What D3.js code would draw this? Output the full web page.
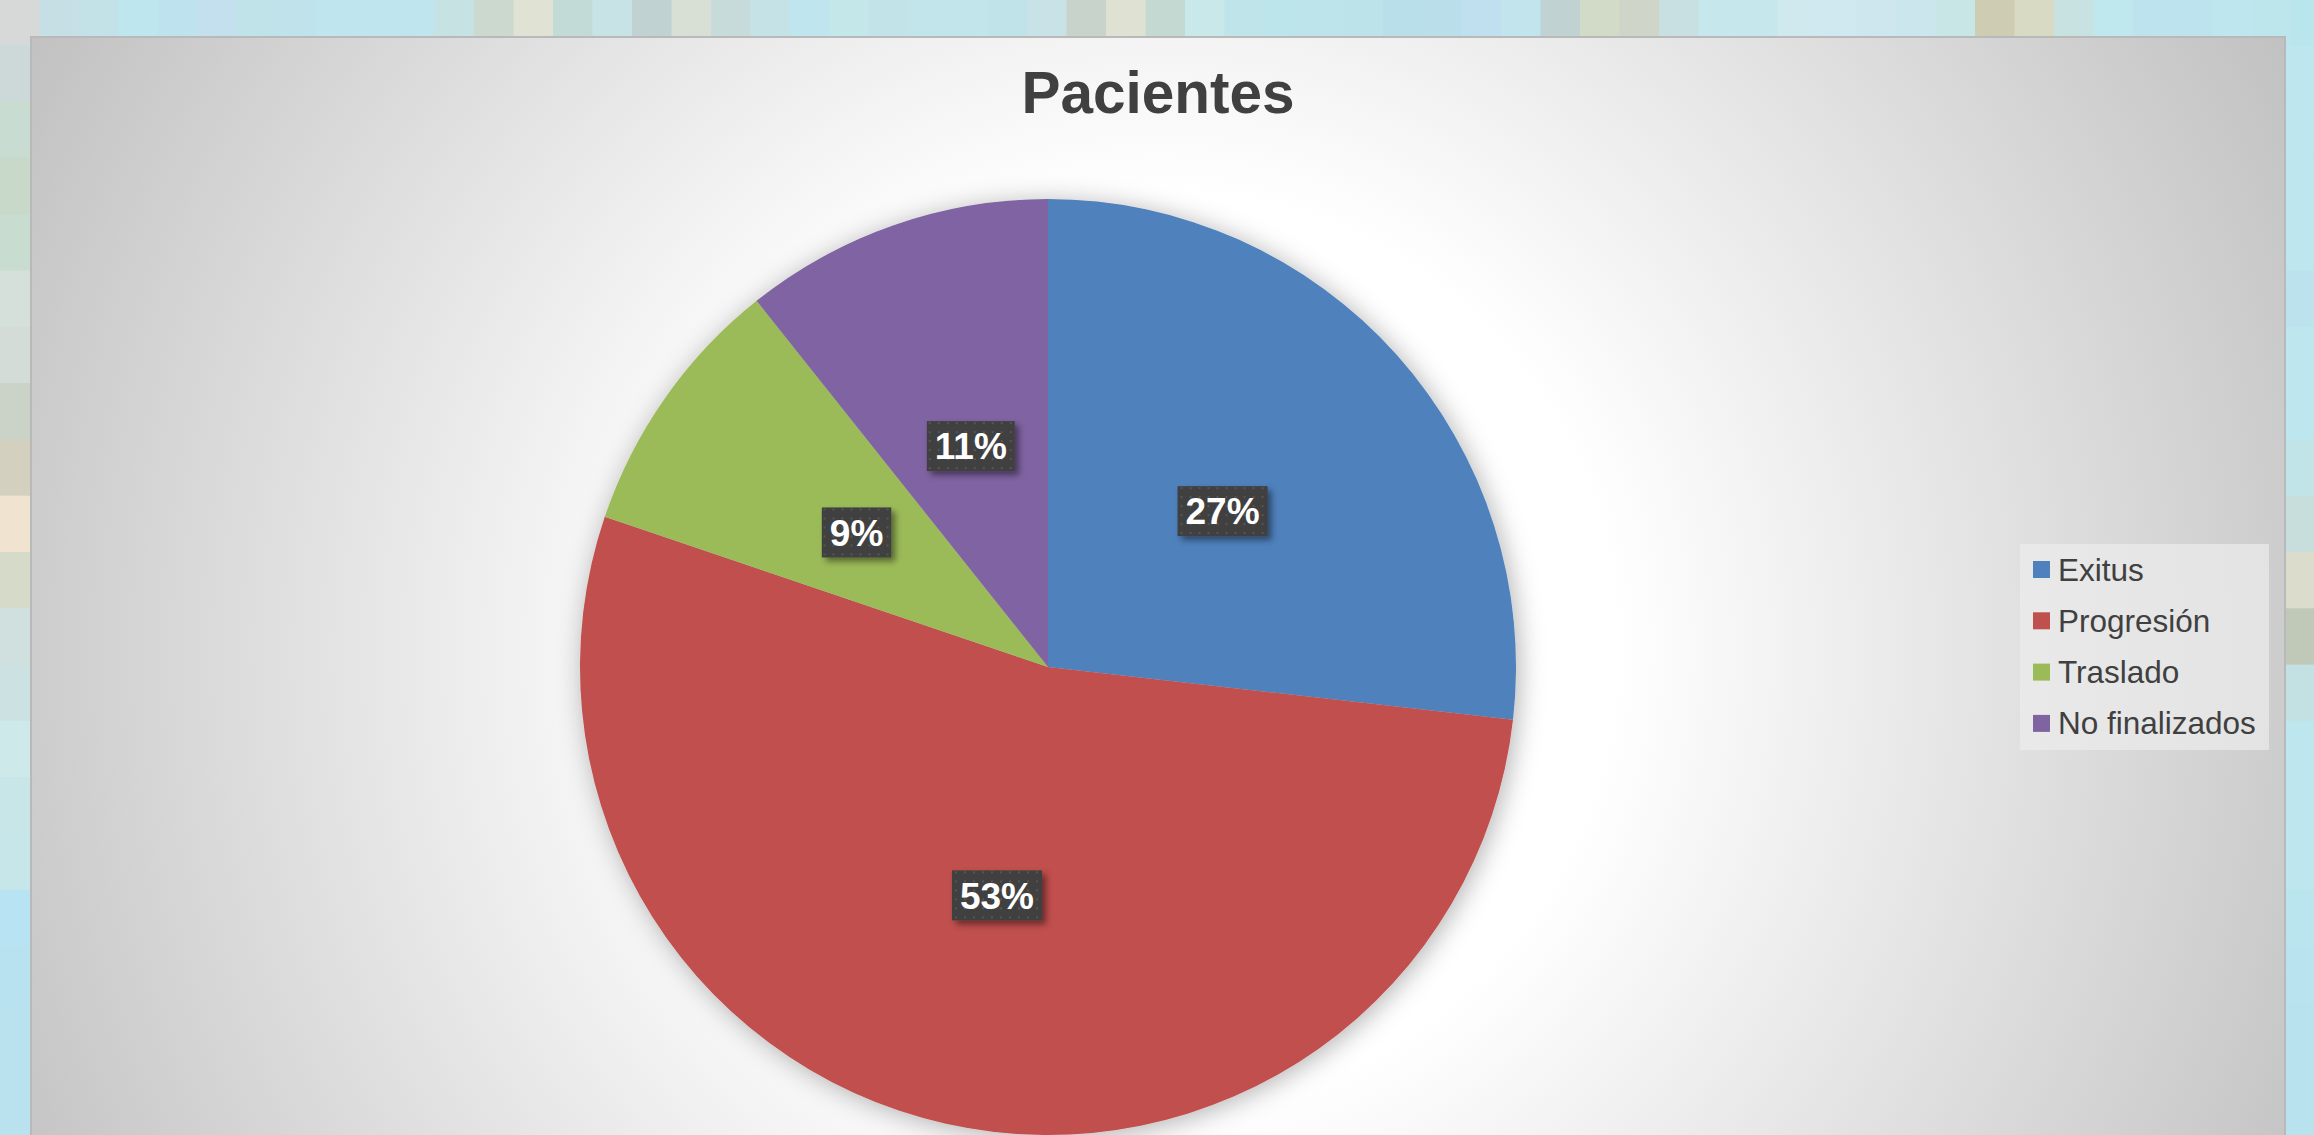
<!DOCTYPE html>
<html>
<head>
<meta charset="utf-8">
<script src="https://cdn.jsdelivr.net/npm/d3@7"></script>
<style>
  html, body { margin: 0; padding: 0; background: #bfe4ec; }
  svg { display: block; }
</style>
</head>
<body>
<div id="chart"></div>
<script>
// Chart data (percent shares)
const categories = ["Exitus", "Progresión", "Traslado", "No finalizados"];
const values = [26.8, 53.4, 9.1, 10.7];
const colors = ["#4f81bd", "#c0504d", "#9bbb59", "#8064a2"];
const title = "Pacientes";

// Mosaic backdrop tiles (top row, left column, right column)
const topTiles = ["#d6d9d8", "#c6dfe5", "#c2e2e8", "#bde6ee", "#bfe3ee", "#c4e0ee", "#c0e2e9", "#c0e2ea",
    "#bfe6ee", "#bfe6ee", "#bfe6ee", "#c6e2e3", "#cbd9cf", "#e0e2d4", "#c2dbd7", "#c8e3e6", "#c0d2d1",
    "#d8dfd5", "#c8dbdb", "#c5e3e7", "#bfe6ee", "#c4e8e9", "#c2e3e8", "#c2e4eb", "#c2e4eb", "#c0e3ea",
    "#c9e2e7", "#c8d4cb", "#dfe1d3", "#c5d9d3", "#c8e8ea", "#bfe4e9", "#bbe5ea", "#bde4ea", "#bce3ea",
    "#b9e0ea", "#badfea", "#c0e0f0", "#c2e4ec", "#c0d3d2", "#d2dbc8", "#cfd5c9", "#c9e0e3", "#c6e7ec",
    "#c6e7ec", "#d0e9ee", "#d0e8ef", "#cee6ee", "#cbe6ed", "#c8e6e5", "#cecdb4", "#d8dac4", "#c8e1e1",
    "#bee7ee", "#bde4ee", "#bde4ee", "#bee6ee", "#bde6ec", "#b8e6ec"];
const leftTiles = ["#d6d9d8", "#cdd9d8", "#c8dcd2", "#c8d9c9", "#c8dccf", "#d5e0da", "#d4dcd8", "#cbd2c8",
    "#d4d0bf", "#f0e3d0", "#d6dac8", "#d0e0de", "#cce2e2", "#cde9ea", "#c8e5e7", "#c6e6e9", "#b8e3f3",
    "#b8e2f0", "#b9e1ee", "#b9e2ee", "#b9e2ee"];
const rightTiles = ["#b8e6ec", "#bde6ee", "#bde6ee", "#bde6ee", "#bde6ee", "#bce2ee", "#bde6ee", "#bde6ee",
    "#c0e4e8", "#c8dedc", "#dcdccc", "#c0c8b8", "#c3e1e3", "#bee6ee", "#bee6ee", "#bde6ee", "#bae4ee",
    "#b9e3ee", "#b8e2ee", "#b8e2ee", "#b8e2ee"];

const width = 2314, height = 1135;
const tileW = 39.5, tileH = 56.3, tileY0 = -11;
const font = "'Liberation Sans', Arial, sans-serif";

const svg = d3.select("#chart").append("svg")
    .attr("width", width)
    .attr("height", height);

const defs = svg.append("defs");

// Panel radial gradient
const grad = defs.append("radialGradient")
    .attr("id", "panelGrad")
    .attr("gradientUnits", "userSpaceOnUse")
    .attr("cx", 1158).attr("cy", 650).attr("r", 1300);
grad.append("stop").attr("offset", 0).attr("stop-color", "#ffffff");
grad.append("stop").attr("offset", 0.35).attr("stop-color", "#ffffff");
grad.append("stop").attr("offset", 1).attr("stop-color", "#c0c0c0");

// Soft shadow for the pie
const pieShadow = defs.append("filter").attr("id", "pieShadow")
    .attr("x", "-20%").attr("y", "-20%").attr("width", "140%").attr("height", "140%");
pieShadow.append("feDropShadow")
    .attr("dx", 3).attr("dy", 3).attr("stdDeviation", 13)
    .attr("flood-color", "#000").attr("flood-opacity", 0.3);

// Shadow for label boxes
const labelShadow = defs.append("filter").attr("id", "labelShadow")
    .attr("x", "-30%").attr("y", "-30%").attr("width", "160%").attr("height", "160%");
labelShadow.append("feDropShadow")
    .attr("dx", 4).attr("dy", 4).attr("stdDeviation", 3)
    .attr("flood-color", "#000").attr("flood-opacity", 0.45);

// Dotted texture for label boxes
const dots = defs.append("pattern").attr("id", "dots")
    .attr("patternUnits", "userSpaceOnUse")
    .attr("width", 9).attr("height", 9);
dots.append("rect").attr("width", 9).attr("height", 9).attr("fill", "#404040");
dots.append("rect").attr("x", 3).attr("y", 3).attr("width", 2).attr("height", 2).attr("fill", "#555555");

// Mosaic backdrop
const bg = svg.append("g");
bg.selectAll("rect.top")
    .data(topTiles)
    .enter().append("rect")
    .attr("class", "top")
    .attr("x", (d, i) => i * tileW)
    .attr("y", 0)
    .attr("width", tileW + 0.5)
    .attr("height", 45)
    .attr("fill", d => d);
bg.selectAll("rect.left")
    .data(leftTiles.slice(1))
    .enter().append("rect")
    .attr("class", "left")
    .attr("x", 0)
    .attr("y", (d, i) => tileY0 + (i + 1) * tileH)
    .attr("width", tileW)
    .attr("height", tileH + 0.5)
    .attr("fill", d => d);
bg.selectAll("rect.right")
    .data(rightTiles.slice(1))
    .enter().append("rect")
    .attr("class", "right")
    .attr("x", 57 * tileW)
    .attr("y", (d, i) => tileY0 + (i + 1) * tileH)
    .attr("width", width - 57 * tileW)
    .attr("height", tileH + 0.5)
    .attr("fill", d => d);

// Chart panel
const panel = { x: 31, y: 37, w: 2254, h: 1200 };
svg.append("rect")
    .attr("x", panel.x).attr("y", panel.y)
    .attr("width", panel.w).attr("height", panel.h)
    .attr("fill", "url(#panelGrad)")
    .attr("stroke", "#b9b9b9")
    .attr("stroke-width", 2);

// Title
svg.append("text")
    .attr("x", 1158)
    .attr("y", 113)
    .attr("text-anchor", "middle")
    .attr("font-family", font)
    .attr("font-weight", "bold")
    .attr("font-size", "58.5px")
    .attr("fill", "#404040")
    .text(title);

// Pie
const cx = 1048, cy = 667, radius = 468;
const total = d3.sum(values);
const pie = d3.pie().sort(null).value(d => d.value);
const arcs = pie(categories.map((c, i) => ({ name: c, value: values[i], color: colors[i] })));
const arc = d3.arc().innerRadius(0).outerRadius(radius);

const g = svg.append("g").attr("transform", `translate(${cx},${cy})`);

g.append("g")
    .attr("filter", "url(#pieShadow)")
    .selectAll("path")
    .data(arcs)
    .enter().append("path")
    .attr("d", arc)
    .attr("fill", d => d.data.color);

// Percentage labels
const fmt = d => Math.round(d.data.value / total * 100) + "%";
const labels = g.selectAll("g.label")
    .data(arcs)
    .enter().append("g")
    .attr("class", "label")
    .attr("transform", d => `translate(${arc.centroid(d)})`);

const box = labels.append("rect")
    .attr("y", -25)
    .attr("height", 50)
    .attr("fill", "url(#dots)")
    .attr("filter", "url(#labelShadow)");

const txt = labels.append("text")
    .attr("text-anchor", "middle")
    .attr("dy", "0.36em")
    .attr("font-family", font)
    .attr("font-weight", "bold")
    .attr("font-size", "37px")
    .attr("fill", "#ffffff")
    .text(fmt);

// Size each box to its text
txt.each(function(d, i) {
    const w = this.getComputedTextLength() + 16;
    d3.select(box.nodes()[i])
        .attr("x", -w / 2)
        .attr("width", w);
});

// Legend
const legend = svg.append("g").attr("transform", "translate(2020,544)");
legend.append("rect")
    .attr("width", 249)
    .attr("height", 206)
    .attr("fill", "#ececec")
    .attr("opacity", 0.7);

const items = legend.selectAll("g.item")
    .data(categories)
    .enter().append("g")
    .attr("class", "item")
    .attr("transform", (d, i) => `translate(13,${25.5 + i * 51.3})`);

items.append("rect")
    .attr("x", 0).attr("y", -8.5)
    .attr("width", 17).attr("height", 17)
    .attr("fill", (d, i) => colors[i]);

items.append("text")
    .attr("x", 25)
    .attr("y", 11)
    .attr("font-family", font)
    .attr("font-size", "31.5px")
    .attr("fill", "#404040")
    .text(d => d);
</script>
</body>
</html>
